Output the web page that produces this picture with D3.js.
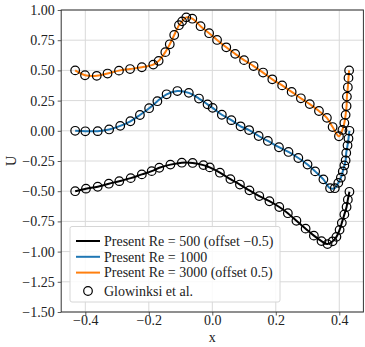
<!DOCTYPE html>
<html>
<head>
<meta charset="utf-8">
<script src="https://cdn.jsdelivr.net/npm/d3@7"></script>
<style>
  body { margin: 0; background: #fff; }
  text { font-family: "Liberation Serif", "DejaVu Serif", serif; }
</style>
</head>
<body>
<div id="chart"></div>
<script>
var svgWidth = 365;
var svgHeight = 347;

var margin = { top: 10, right: 1.6, bottom: 35, left: 61.2 };
var width = svgWidth - margin.left - margin.right;
var height = svgHeight - margin.top - margin.bottom;

// sample positions along the centre line and U values (no offset)
var xRe500 = [-0.432, -0.398, -0.361, -0.326, -0.293, -0.257, -0.222, -0.191, -0.167, -0.132,
  -0.096, -0.062, -0.028, -0.008, 0.024, 0.057, 0.087, 0.117, 0.148, 0.180,
  0.211, 0.238, 0.265, 0.294, 0.320, 0.344, 0.363, 0.379, 0.391, 0.401,
  0.408, 0.416, 0.423, 0.427, 0.432];
var uRe500 = [0.000, 0.021, 0.037, 0.062, 0.083, 0.108, 0.139, 0.166, 0.194, 0.220,
  0.236, 0.234, 0.216, 0.197, 0.153, 0.100, 0.055, 0.007, -0.040, -0.083,
  -0.131, -0.182, -0.245, -0.310, -0.368, -0.413, -0.438, -0.415, -0.378, -0.320,
  -0.262, -0.192, -0.131, -0.070, -0.005];

var xRe1000 = [-0.432, -0.400, -0.361, -0.325, -0.290, -0.258, -0.228, -0.199, -0.173, -0.144,
  -0.110, -0.074, -0.042, -0.015, 0.001, 0.030, 0.060, 0.089, 0.116, 0.146,
  0.175, 0.210, 0.240, 0.271, 0.300, 0.324, 0.350, 0.371, 0.386, 0.397,
  0.405, 0.411, 0.416, 0.420, 0.422, 0.426, 0.429, 0.432];
var uRe1000 = [0.000, -0.004, -0.003, 0.011, 0.041, 0.079, 0.131, 0.187, 0.245, 0.302,
  0.329, 0.314, 0.267, 0.219, 0.190, 0.133, 0.088, 0.037, 0.006, -0.043,
  -0.084, -0.136, -0.175, -0.225, -0.279, -0.336, -0.402, -0.475, -0.475, -0.431,
  -0.388, -0.336, -0.287, -0.245, -0.183, -0.121, -0.064, 0.000];

var xRe3000 = [-0.432, -0.401, -0.364, -0.330, -0.294, -0.259, -0.222, -0.186, -0.169, -0.148,
  -0.134, -0.120, -0.105, -0.095, -0.082, -0.063, -0.037, -0.010, 0.015, 0.044,
  0.072, 0.100, 0.130, 0.160, 0.189, 0.220, 0.250, 0.279, 0.307, 0.336,
  0.361, 0.379, 0.399, 0.410, 0.416, 0.420, 0.423, 0.424, 0.427, 0.429, 0.431];
var uRe3000 = [0.000, -0.040, -0.045, -0.026, -0.002, 0.011, 0.026, 0.048, 0.079, 0.151,
  0.216, 0.293, 0.374, 0.406, 0.439, 0.428, 0.366, 0.308, 0.252, 0.191,
  0.137, 0.085, 0.036, -0.018, -0.074, -0.124, -0.178, -0.231, -0.279, -0.336,
  -0.393, -0.469, -0.545, -0.493, -0.436, -0.368, -0.295, -0.217, -0.140, -0.062, 0.000];

var seriesNames = ["Present Re = 500 (offset \u22120.5)", "Present Re = 1000", "Present Re = 3000 (offset 0.5)"];
var seriesOffsets = [-0.5, 0, 0.5];
var refName = "Glowinksi et al.";
var seriesColors = ["#000000", "#1f77b4", "#ff7f0e"];

var xTicks = [-0.4, -0.2, 0.0, 0.2, 0.4];
var yTicks = [-1.5, -1.25, -1.0, -0.75, -0.5, -0.25, 0.0, 0.25, 0.5, 0.75, 1.0];

var fontSize = "14px";
var fmtMinus = function(s) { return s.replace("-", "\u2212"); };

var svg = d3.select("#chart")
  .append("svg")
  .attr("width", svgWidth)
  .attr("height", svgHeight);

var chartGroup = svg.append("g")
  .attr("transform", `translate(${margin.left}, ${margin.top})`);

var xScale = d3.scaleLinear().domain([-0.476, 0.476]).range([0, width]);
var yScale = d3.scaleLinear().domain([-1.5, 1.0]).range([height, 0]);

// grid
chartGroup.append("g")
  .selectAll("line")
  .data(xTicks)
  .enter()
  .append("line")
  .attr("x1", d => xScale(d)).attr("x2", d => xScale(d))
  .attr("y1", 0).attr("y2", height)
  .attr("stroke", "#d9d9d9").attr("stroke-width", 1);
chartGroup.append("g")
  .selectAll("line")
  .data(yTicks)
  .enter()
  .append("line")
  .attr("y1", d => yScale(d)).attr("y2", d => yScale(d))
  .attr("x1", 0).attr("x2", width)
  .attr("stroke", "#d9d9d9").attr("stroke-width", 1);

// axes
var bottomAxis = d3.axisBottom(xScale)
  .tickValues(xTicks)
  .tickSizeOuter(0)
  .tickSize(3.5)
  .tickPadding(0)
  .tickFormat(d => fmtMinus(d3.format(".1f")(d)));
var leftAxis = d3.axisLeft(yScale)
  .tickValues(yTicks)
  .tickSizeOuter(0)
  .tickSize(3.5)
  .tickPadding(3)
  .tickFormat(d => fmtMinus(d3.format(".2f")(d)));

var xAxis = chartGroup.append("g")
  .attr("transform", `translate(0, ${height})`)
  .call(bottomAxis);
var yAxis = chartGroup.append("g")
  .call(leftAxis);

[xAxis, yAxis].forEach(function(ax) {
  ax.select(".domain").remove();
  ax.selectAll("line").attr("stroke", "#333").attr("stroke-width", 0.8);
  ax.selectAll("text")
    .attr("font-family", "'Liberation Serif', 'DejaVu Serif', serif")
    .attr("font-size", fontSize)
    .attr("fill", "#222");
});

// series
var seriesX = [xRe500, xRe1000, xRe3000];
var seriesU = [uRe500, uRe1000, uRe3000];
var lineGen = d3.line()
  .x(d => xScale(d[0]))
  .y(d => yScale(d[1]))
  .curve(d3.curveCatmullRom.alpha(0.5));

seriesX.forEach(function(xs, i) {
  var pts = xs.map((x, j) => [x, seriesU[i][j] + seriesOffsets[i]]);
  chartGroup.append("path")
    .datum(pts)
    .attr("d", lineGen)
    .attr("fill", "none")
    .attr("stroke", seriesColors[i])
    .attr("stroke-width", 2);
});

seriesX.forEach(function(xs, i) {
  var pts = xs.map((x, j) => [x, seriesU[i][j] + seriesOffsets[i]]);
  chartGroup.append("g")
    .selectAll("circle")
    .data(pts)
    .enter()
    .append("circle")
    .attr("cx", d => xScale(d[0]))
    .attr("cy", d => yScale(d[1]))
    .attr("r", 4.3)
    .attr("fill", "none")
    .attr("stroke", "#000")
    .attr("stroke-width", 1.2);
});

// frame
chartGroup.append("rect")
  .attr("width", width).attr("height", height)
  .attr("fill", "none").attr("stroke", "#333").attr("stroke-width", 1);

// axis labels
svg.append("text")
  .attr("x", margin.left + width / 2)
  .attr("y", 341.5)
  .attr("text-anchor", "middle")
  .attr("font-size", fontSize)
  .attr("fill", "#222")
  .text("x");
svg.append("text")
  .attr("transform", `translate(16, ${margin.top + height / 2}) rotate(-90)`)
  .attr("text-anchor", "middle")
  .attr("font-size", fontSize)
  .attr("fill", "#222")
  .text("U");

// legend
var legend = svg.append("g").attr("transform", "translate(70, 226.5)");
legend.append("rect")
  .attr("width", 210).attr("height", 75.5)
  .attr("rx", 2)
  .attr("fill", "#fff").attr("fill-opacity", 0.85)
  .attr("stroke", "#d6d6d6").attr("stroke-width", 1);
var legendRows = [14.5, 30.3, 46.1, 64.5];
seriesNames.forEach(function(name, i) {
  legend.append("line")
    .attr("x1", 6).attr("x2", 30)
    .attr("y1", legendRows[i]).attr("y2", legendRows[i])
    .attr("stroke", seriesColors[i]).attr("stroke-width", 2);
  legend.append("text")
    .attr("x", 34).attr("y", legendRows[i] + 4.8)
    .attr("font-size", fontSize).attr("fill", "#222")
    .text(name);
});
legend.append("circle")
  .attr("cx", 18).attr("cy", legendRows[3])
  .attr("r", 4.3)
  .attr("fill", "none").attr("stroke", "#000").attr("stroke-width", 1.2);
legend.append("text")
  .attr("x", 34).attr("y", legendRows[3] + 4.8)
  .attr("font-size", fontSize).attr("fill", "#222")
  .text(refName);
</script>
</body>
</html>
